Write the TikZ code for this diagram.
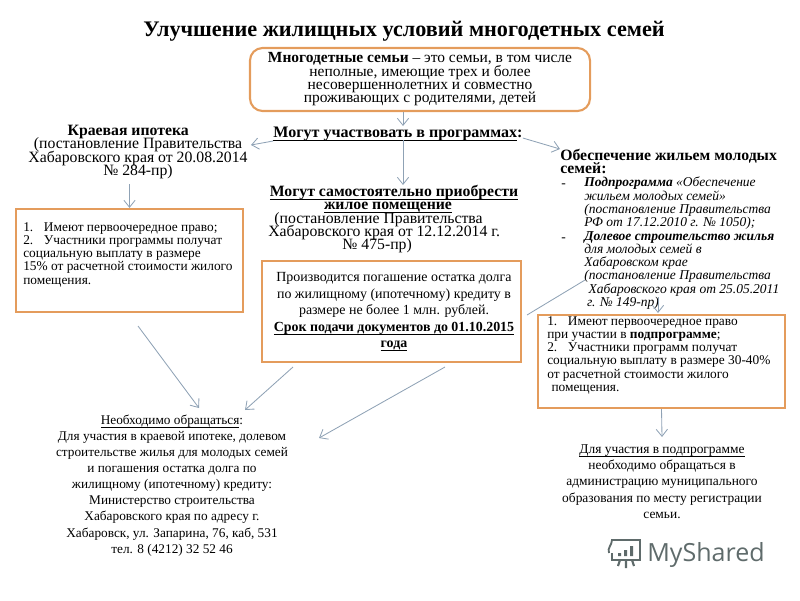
\documentclass[tikz,border=0pt]{standalone}
\usepackage{fontspec}
\setmainfont{Liberation Serif}
\newfontfamily\logofont{Open Sans}
\usetikzlibrary{arrows.meta,positioning}
\definecolor{boxline}{HTML}{E49C5C}
\definecolor{arrowline}{HTML}{8FA2B5}
\definecolor{logogray}{HTML}{5F6B6B}
\setlength{\lineskiplimit}{-6pt}
\newcommand{\uline}[1]{\setbox0\hbox{#1}\dp0=0.6pt\underline{\box0}}
\tikzset{
  plain/.style={inner sep=0pt,font=\fontsize{11.2}{9.45}\selectfont,align=center},
  small/.style={inner sep=0pt,font=\fontsize{9.5}{9.45}\selectfont},
  listtext/.style={inner sep=0pt,anchor=north west,align=left,font=\fontsize{9.6}{9.45}\selectfont\itshape},
  framebox/.style={draw=boxline,line width=1.5pt,inner sep=0pt},
  link/.style={draw=arrowline,line width=0.6pt,-{Straight Barb[length=5pt,width=8pt]}}
}
\begin{document}
\begin{tikzpicture}[x=0.025cm,y=-0.025cm]
  \useasboundingbox (0,0) rectangle (800,600);

  % Title and top box
  \node[inner sep=0pt,font=\fontsize{15.8}{17}\selectfont\bfseries] (title) at (404,31) {Улучшение жилищных условий многодетных семей};
  \node[framebox,rounded corners=9pt,minimum width=8.5cm,minimum height=1.575cm] (familybox) at (420,79.5) {};
  \node[small,align=center,font=\fontsize{11}{9.45}\selectfont] (familytext) at (420,79.5) {\textbf{Многодетные семьи} – это семьи, в том числе\\неполные, имеющие трех и более\\несовершеннолетних и совместно\\проживающих с родителями, детей};
  \node[inner sep=0pt,font=\fontsize{11.4}{10}\selectfont\bfseries] (programs) at (398,134) {\uline{Могут участвовать в программах}:};

  % Left column
  \node[plain,anchor=north] (ipoteka) at (138,125) {\hspace*{-14pt}\textbf{Краевая ипотека}\\(постановление Правительства\\Хабаровского края от 20.08.2014\\№ 284-пр)};
  \node[framebox,minimum width=5.675cm,minimum height=2.575cm] (ipotekabox) at (129.5,260.5) {};
  \node[small,align=left,anchor=north west] (ipotekatext) at (23,222) {1.\hspace{0.8em}Имеют первоочередное право;\\2.\hspace{0.8em}Участники программы получат\\социальную выплату в размере\\15\% от расчетной стоимости жилого\\помещения.};

  % Centre column
  \node[plain,anchor=north] (selfbuy) at (394,185) {\textbf{\uline{Могут самостоятельно приобрести}}\\\hspace*{-8.5pt}\textbf{\uline{жилое помещение}}\\\hspace*{-22pt}(постановление Правительства\\\hspace*{-14pt}Хабаровского края от 12.12.2014 г.\\\hspace*{-24pt}№ 475-пр)};
  \node[framebox,minimum width=6.475cm,minimum height=2.525cm] (selfbox) at (391.5,311.5) {};
  \node[inner sep=0pt,align=center,font=\fontsize{9.9}{11.7}\selectfont] (selftext) at (394,312) {Производится погашение остатка долга\\по жилищному (ипотечному) кредиту в\\размере не более 1 млн. рублей.\\\textbf{\uline{Срок подачи документов до 01.10.2015}}\\\textbf{\uline{года}}};

  % Right column
  \node[inner sep=0pt,anchor=north west,align=left,font=\fontsize{11.2}{9.3}\selectfont\bfseries] (young) at (560,149) {Обеспечение жильем молодых\\семей:};
  \node[listtext] (youngdash) at (561,184) {-\\[28.35pt]-};
  \node[listtext] (younglist) at (584,177) {\textbf{Подпрограмма} «Обеспечение\\жильем молодых семей»\\(постановление Правительства\\РФ от 17.12.2010 г. № 1050);\\\textbf{Долевое строительство жилья}\\для молодых семей в\\Хабаровском крае\\(постановление Правительства\\\hspace*{3pt}Хабаровского края от 25.05.2011\\\hspace*{2pt}г. № 149-пр)};
  \node[framebox,minimum width=6.175cm,minimum height=2.325cm] (youngbox) at (661.5,361.5) {};
  \node[small,align=left,anchor=north west] (youngtext) at (547,316) {1.\hspace{0.8em}Имеют первоочередное право\\при участии в \textbf{подпрограмме};\\2.\hspace{0.8em}Участники программ получат\\социальную выплату в размере 30-40\%\\от расчетной стоимости жилого\\\hspace*{3pt}помещения.};

  % Bottom texts
  \node[inner sep=0pt,align=center,font=\fontsize{9.45}{11.4}\selectfont,anchor=north] (contact) at (172,415) {\uline{Необходимо обращаться}:\\Для участия в краевой ипотеке, долевом\\строительстве жилья для молодых семей\\и погашения остатка долга по\\жилищному (ипотечному) кредиту:\\Министерство строительства\\Хабаровского края по адресу г.\\Хабаровск, ул. Запарина, 76, каб, 531\\тел. 8 (4212) 32 52 46};
  \node[inner sep=0pt,align=center,font=\fontsize{9.55}{11.7}\selectfont,anchor=north] (subcontact) at (662,444) {\uline{Для участия в подпрограмме}\\необходимо обращаться в\\администрацию муниципального\\образования по месту регистрации\\семьи.};

  % Free ends of the arrows
  \coordinate (leftstart) at (138,326);
  \coordinate (lefttip) at (199,408);
  \coordinate (midstart) at (293,367);
  \coordinate (midtip) at (245,410);
  \coordinate (farstart) at (445,367);
  \coordinate (fartip) at (319,438);
  \coordinate (slantstart) at (585,280);
  \coordinate (slantend) at (527,315);

  % Arrows
  \draw[link] (familybox.south -| 403,0) -- (403,126);
  \draw[link] (403,140) -- (selfbuy.north -| 403,0);
  \draw[link] (programs.west) ++(0,7) -- (251,145);
  \draw[link] (programs.east) ++(0,4) -- (young.north west);
  \draw[link] (ipotekabox.north |- ipoteka.south) ++(0,5) -- (ipotekabox.north);
  \draw[link] (leftstart) -- (lefttip);
  \draw[link] (midstart) -- (midtip);
  \draw[link] (farstart) -- (fartip);
  \draw[arrowline,line width=0.6pt] (slantstart) -- (slantend);
  \draw[link] (658,297) -- (658,313);
  \draw[link] (youngbox.south) -- (662,437);

  % Logo
  \node[inner sep=0pt,anchor=west,text=logogray,font=\fontsize{17.8}{19}\selectfont\logofont] (logotext) at (647,555) {MyShared};
  \draw[logogray,line width=1.3pt] (609,553) .. controls (607,548) and (612,545) .. (612,540) -- (640,540) -- (640,560) -- (612,560) -- (612,553);
  \draw[logogray,line width=1.5pt] (618,566) -- (620,560) (626,568) -- (626,560) (634,566) -- (632,560);
  \fill[logogray] (618,553) rectangle (621,556) (624,550) rectangle (627,556) (630,546) rectangle (633,556);
\end{tikzpicture}
\end{document}
